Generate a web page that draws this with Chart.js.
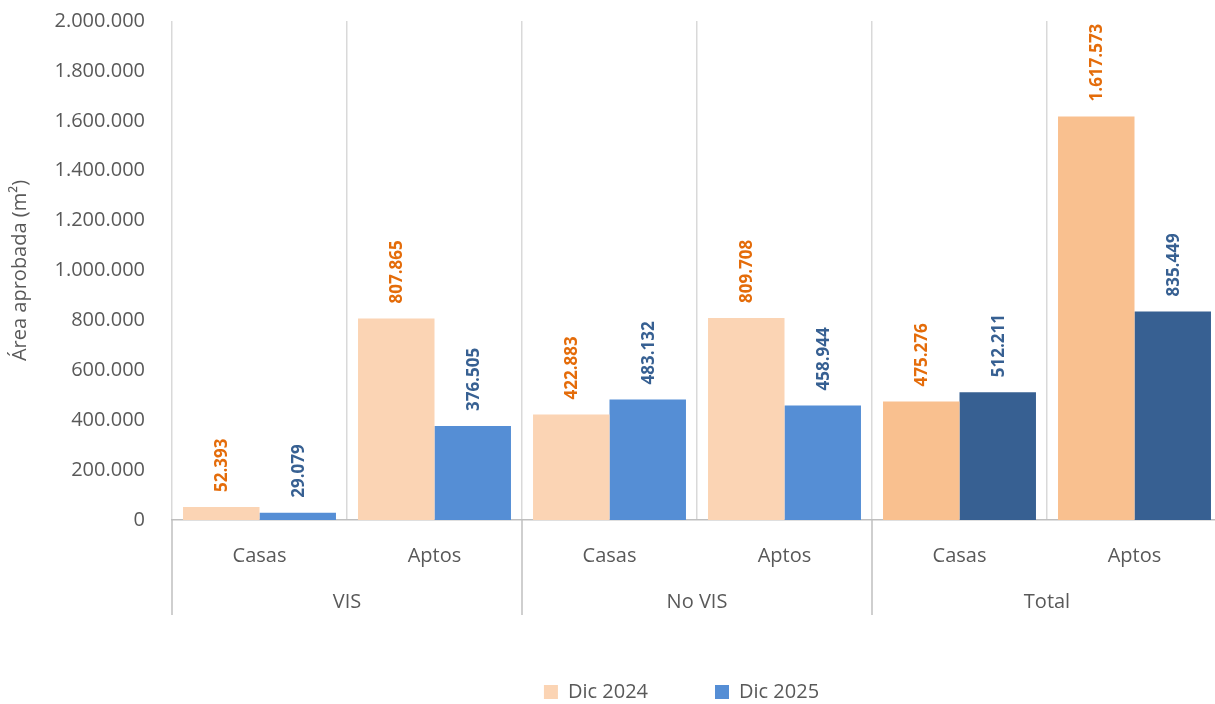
<!DOCTYPE html>
<html>
<head>
<meta charset="utf-8">
<script src="https://cdn.jsdelivr.net/npm/chart.js@4.4.1/dist/chart.umd.min.js"></script>
<style>
  html, body { margin: 0; padding: 0; background: #ffffff; }
  #wrap { width: 1215px; height: 704px; position: relative; }
</style>
</head>
<body>
<div id="wrap"><canvas id="c" width="1215" height="704"></canvas></div>
<script>
const categories = ['Casas', 'Aptos', 'Casas', 'Aptos', 'Casas', 'Aptos'];
const groups = ['VIS', 'No VIS', 'Total'];
const seriesNames = ['Dic 2024', 'Dic 2025'];
const dic2024 = [52393, 807865, 422883, 809708, 475276, 1617573];
const dic2025 = [29079, 376505, 483132, 458944, 512211, 835449];
const yTicks = [0, 200000, 400000, 600000, 800000, 1000000, 1200000, 1400000, 1600000, 1800000, 2000000];

const FONT = "'Open Sans', 'Noto Sans', sans-serif";
const TEXT = '#595959';
const light24 = '#FBD4B4', dark24 = '#F9C08F';
const light25 = '#558ED5', dark25 = '#376092';
const lbl24 = '#E46C0A', lbl25 = '#376092';
const LEGEND_PAD = 67;

function fmt(v) {
  return String(Math.round(v)).replace(/\B(?=(\d{3})+(?!\d))/g, '.');
}

const overlay = {
  id: 'overlay',
  afterLayout(chart) {
    // plot area continues slightly past the right edge of the picture
    const xs = chart.scales.x;
    const newRight = 1222;
    xs.right = newRight;
    xs.width = newRight - xs.left;
    chart.chartArea.right = newRight;
    chart.chartArea.width = newRight - chart.chartArea.left;
    xs.configure();
    if (chart.legend) {
      chart.legend.left -= 12;
      chart.legend.right -= 12;
    }
  },
  afterDatasetsDraw(chart) {
    const ctx = chart.ctx;
    ctx.save();
    ctx.font = "bold 17px " + FONT;
    ctx.textAlign = 'left';
    ctx.textBaseline = 'middle';
    chart.data.datasets.forEach((ds, di) => {
      const meta = chart.getDatasetMeta(di);
      meta.data.forEach((el, i) => {
        ctx.save();
        ctx.translate(el.x, el.y - 15);
        ctx.rotate(-Math.PI / 2);
        ctx.fillStyle = di === 0 ? lbl24 : lbl25;
        ctx.fillText(fmt(ds.data[i]), 0, 1);
        ctx.restore();
      });
    });
    ctx.restore();
  },
  afterDraw(chart) {
    const ctx = chart.ctx;
    const xs = chart.scales.x;
    const bottom = chart.chartArea.bottom;
    const half = (xs.getPixelForValue(1) - xs.getPixelForValue(0)) / 2;
    ctx.save();
    ctx.strokeStyle = '#bfbfbf';
    ctx.lineWidth = 1.5;
    for (let g = 0; g < groups.length; g++) {
      const xl = xs.getPixelForValue(g * 2) - half;
      ctx.beginPath();
      ctx.moveTo(xl, bottom);
      ctx.lineTo(xl, bottom + 95);
      ctx.stroke();
    }
    ctx.fillStyle = TEXT;
    ctx.font = "20px " + FONT;
    ctx.textAlign = 'center';
    ctx.textBaseline = 'middle';
    for (let g = 0; g < groups.length; g++) {
      const xc = (xs.getPixelForValue(g * 2) + xs.getPixelForValue(g * 2 + 1)) / 2;
      ctx.fillText(groups[g], xc, bottom + 82);
    }
    ctx.restore();
  }
};

new Chart(document.getElementById('c'), {
  type: 'bar',
  data: {
    labels: categories,
    datasets: [
      {
        label: seriesNames[0],
        data: dic2024,
        backgroundColor: (c) => (c.dataIndex !== undefined && c.dataIndex >= 4) ? dark24 : light24,
        borderWidth: 0,
        barPercentage: 1,
        categoryPercentage: 0.874
      },
      {
        label: seriesNames[1],
        data: dic2025,
        backgroundColor: (c) => (c.dataIndex !== undefined && c.dataIndex >= 4) ? dark25 : light25,
        borderWidth: 0,
        barPercentage: 1,
        categoryPercentage: 0.874
      }
    ]
  },
  options: {
    responsive: false,
    animation: false,
    devicePixelRatio: 1,
    layout: { padding: { top: 21, right: 0, left: 0, bottom: -8 } },
    plugins: {
      tooltip: { enabled: false },
      legend: {
        position: 'bottom',
        fullSize: false,
        labels: {
          boxWidth: 14,
          boxHeight: 14,
          padding: LEGEND_PAD,
          color: TEXT,
          font: { family: FONT, size: 20 }
        }
      }
    },
    scales: {
      x: {
        grid: {
          display: true,
          offset: true,
          drawOnChartArea: true,
          drawTicks: false,
          color: '#d9d9d9',
          lineWidth: 1.5
        },
        border: { display: true, color: '#bfbfbf', width: 1.5 },
        ticks: {
          color: TEXT,
          padding: 24,
          font: { family: FONT, size: 20 },
          maxRotation: 0,
          autoSkip: false
        },
        afterFit(scale) {
          scale.height = 162 - LEGEND_PAD;
          scale.paddingLeft = 0;
          scale.paddingRight = 0;
        }
      },
      y: {
        min: 0,
        max: 2000000,
        afterBuildTicks(scale) { scale.ticks = yTicks.map(v => ({ value: v })); },
        grid: { display: false, drawTicks: false },
        border: { display: false },
        ticks: {
          color: TEXT,
          padding: 27,
          font: { family: FONT, size: 20 },
          callback: (v) => fmt(v)
        },
        title: {
          display: true,
          text: 'Área aprobada (m²)',
          color: TEXT,
          font: { family: FONT, size: 20 },
          padding: { top: 8, bottom: 0 }
        },
        afterFit(scale) {
          scale.width = 172;
          scale.paddingTop = 0;
          scale.paddingBottom = 0;
        }
      }
    }
  },
  plugins: [overlay]
});
</script>
</body>
</html>
